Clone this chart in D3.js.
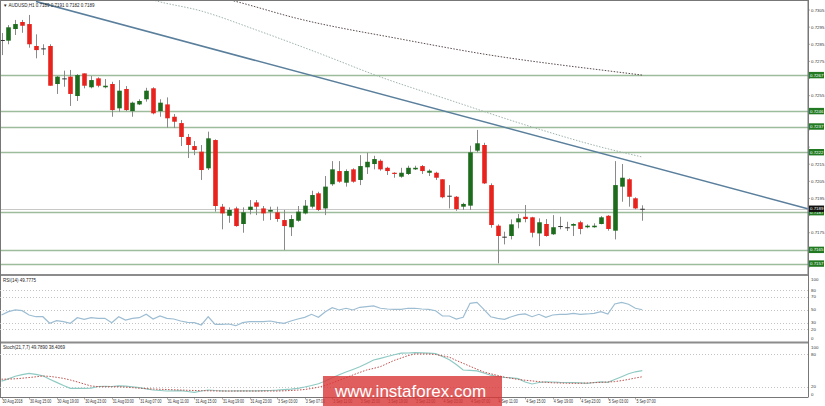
<!DOCTYPE html>
<html>
<head>
<meta charset="utf-8">
<script src="https://cdn.jsdelivr.net/npm/d3@7/dist/d3.min.js"></script>
<style>
  body { margin: 0; background: #fff; }
  svg { display: block; font-family: "Liberation Sans", Arial, sans-serif; }
</style>
</head>
<body>
<svg></svg>
<script>
// AUDUSD H1 candles, 30 Aug 11:00 .. 5 Sep 08:00
const open = [0.72875,0.72871,0.72939,0.72980,0.72968,0.72840,0.72826,0.72840,0.72618,0.72651,
  0.72661,0.72548,0.72680,0.72599,0.72651,0.72599,0.72618,0.72476,0.72589,0.72460,
  0.72499,0.72529,0.72593,0.72460,0.72499,0.72427,0.72390,0.72309,0.72256,0.72223,
  0.72126,0.72291,0.71902,0.71849,0.71892,0.71801,0.71883,0.71927,0.71892,0.71873,
  0.71869,0.71824,0.71782,0.71820,0.71863,0.71902,0.71980,0.71892,0.72033,0.72110,
  0.72042,0.72120,0.72058,0.72132,0.72151,0.72170,0.72129,0.72100,0.72077,0.72093,
  0.72120,0.72139,0.72100,0.72100,0.72062,0.71966,0.71960,0.71902,0.71908,0.72229,
  0.72262,0.72028,0.71791,0.71727,0.71731,0.71811,0.71843,0.71840,0.71746,0.71801,
  0.71741,0.71789,0.71782,0.71791,0.71811,0.71782,0.71782,0.71801,0.71849,0.71762,
  0.72019,0.72062,0.71951,0.71890];
const high = [0.72916,0.72962,0.72992,0.72992,0.73021,0.72908,0.72850,0.72850,0.72665,0.72696,
  0.72700,0.72676,0.72680,0.72665,0.72657,0.72647,0.72631,0.72641,0.72606,0.72515,
  0.72529,0.72596,0.72599,0.72529,0.72540,0.72443,0.72408,0.72326,0.72285,0.72262,
  0.72340,0.72295,0.71918,0.71898,0.71902,0.71898,0.71941,0.71941,0.71906,0.71902,
  0.71902,0.71883,0.71853,0.71906,0.71941,0.71995,0.71989,0.72081,0.72168,0.72168,
  0.72120,0.72126,0.72203,0.72217,0.72199,0.72178,0.72135,0.72103,0.72129,0.72141,
  0.72141,0.72145,0.72120,0.72106,0.72062,0.72028,0.71964,0.71925,0.72258,0.72350,
  0.72275,0.72038,0.71799,0.71756,0.71828,0.71859,0.71912,0.71843,0.71834,0.71830,
  0.71853,0.71843,0.71814,0.71805,0.71820,0.71799,0.71805,0.71847,0.71853,0.72168,
  0.72151,0.72068,0.71957,0.71910];
const low = [0.72787,0.72850,0.72904,0.72917,0.72830,0.72768,0.72787,0.72608,0.72560,0.72602,
  0.72490,0.72519,0.72593,0.72593,0.72599,0.72593,0.72427,0.72456,0.72460,0.72427,
  0.72495,0.72515,0.72441,0.72427,0.72363,0.72361,0.72256,0.72186,0.72203,0.72058,
  0.72116,0.71873,0.71770,0.71808,0.71785,0.71750,0.71857,0.71853,0.71820,0.71824,
  0.71814,0.71649,0.71731,0.71814,0.71857,0.71892,0.71877,0.71853,0.72024,0.72042,
  0.72019,0.72042,0.72028,0.72093,0.72120,0.72112,0.72087,0.72071,0.72071,0.72087,
  0.72116,0.72093,0.72081,0.72058,0.71951,0.71892,0.71878,0.71883,0.71883,0.72219,
  0.72034,0.71779,0.71571,0.71682,0.71711,0.71776,0.71811,0.71723,0.71672,0.71727,
  0.71737,0.71770,0.71760,0.71731,0.71741,0.71776,0.71779,0.71799,0.71762,0.71711,
  0.71931,0.71902,0.71887,0.71820];
const close = [0.72875,0.72949,0.72968,0.72958,0.72850,0.72816,0.72826,0.72608,0.72661,0.72651,
  0.72560,0.72670,0.72608,0.72641,0.72608,0.72608,0.72466,0.72579,0.72466,0.72509,
  0.72519,0.72579,0.72447,0.72509,0.72418,0.72398,0.72309,0.72262,0.72233,0.72116,
  0.72301,0.71906,0.71863,0.71883,0.71789,0.71869,0.71902,0.71902,0.71863,0.71883,
  0.71830,0.71789,0.71830,0.71873,0.71908,0.71970,0.71883,0.72019,0.72120,0.72048,
  0.72110,0.72048,0.72139,0.72164,0.72180,0.72120,0.72110,0.72093,0.72100,0.72129,
  0.72129,0.72110,0.72112,0.72071,0.71957,0.71966,0.71888,0.71918,0.72219,0.72272,
  0.72038,0.71795,0.71731,0.71727,0.71799,0.71834,0.71830,0.71750,0.71811,0.71731,
  0.71782,0.71789,0.71782,0.71801,0.71772,0.71791,0.71791,0.71840,0.71772,0.72028,
  0.72071,0.71960,0.71892,0.71890];

const rsi = [41.8,46.9,49.5,48.4,41.8,39.2,39.2,29.2,33.1,31.6,
  29.2,37.7,35.3,37.7,36.8,36.8,30.1,39.2,34.2,36.8,
  37.7,42.9,35.7,40.3,36.8,35.7,32.7,30.7,30.1,26.6,
  39.2,27.6,27.6,28.1,25.5,30.1,31.6,31.6,31.6,32.7,
  30.7,29.2,32.7,35.7,38.3,42.9,38.3,46.9,53.0,49.5,
  52.1,49.5,53.6,54.5,55.6,52.1,51.0,50.5,50.5,52.1,
  52.1,51.0,50.5,48.4,40.3,40.3,35.7,38.3,59.7,61.2,
  50.5,39.2,36.8,35.3,39.2,42.3,43.4,39.2,42.9,38.3,
  41.8,42.9,42.9,44.4,42.9,43.4,44.4,46.9,43.4,58.6,
  61.2,58.2,52.1,49.8];

const stochMain = [30.2,34.6,39.4,42.4,44.6,42.8,40.2,33.9,28.0,22.2,
  17.0,17.0,17.0,17.4,20.4,20.7,20.4,21.7,20.9,19.6,
  18.3,16.1,13.9,13.0,12.0,12.4,12.6,11.1,9.6,12.0,
  13.9,13.0,12.4,12.0,12.2,12.4,12.2,12.4,12.6,13.0,
  13.5,14.6,15.4,17.0,19.4,22.2,25.4,30.6,36.7,42.2,
  47.2,51.9,56.9,63.0,69.4,72.6,75.9,79.1,82.0,82.4,
  83.0,82.6,82.2,81.3,75.9,70.0,61.1,50.9,50.4,49.4,
  45.4,41.3,38.9,37.2,36.5,35.0,28.7,25.0,27.8,29.1,
  28.7,28.1,27.8,27.4,26.9,26.3,27.8,29.1,28.1,33.3,
  38.5,43.9,47.6,49.8];
const stochSignal = [33.9,34.1,34.6,35.7,37.0,38.3,39.8,39.1,37.4,35.4,
  32.4,28.9,25.0,21.3,20.2,20.0,20.0,20.0,19.3,18.3,
  17.2,16.5,15.7,15.2,14.8,14.3,13.9,13.3,13.0,12.6,
  12.4,12.2,12.0,12.0,12.0,12.0,12.0,12.0,12.0,12.0,
  12.0,12.4,13.0,13.7,14.8,16.7,19.1,22.4,26.9,31.9,
  36.7,41.7,46.5,50.9,53.9,57.2,63.0,68.7,73.1,77.6,
  80.6,80.6,80.6,79.6,77.2,74.6,68.7,63.3,57.8,52.4,
  47.2,43.9,40.9,37.6,35.6,33.3,32.0,30.7,29.4,28.1,
  27.2,26.9,26.3,26.3,26.3,26.9,27.4,28.1,28.7,29.4,
  31.3,33.5,36.1,38.4];

// horizontal levels drawn on the chart, and the axis tick labels
const levels = [0.7267, 0.7246, 0.7237, 0.7222, 0.7187, 0.7165, 0.7157];
const lastPrice = 0.7189;
const priceTicks = [0.7305, 0.7295, 0.7285, 0.7275, 0.7265, 0.7255, 0.7245, 0.7235,
  0.7225, 0.7215, 0.7205, 0.7195, 0.7185, 0.7175, 0.7165, 0.7155];
const timeLabels = ["30 Aug 2018","30 Aug 15:00","30 Aug 19:00","30 Aug 23:00","31 Aug 03:00",
  "31 Aug 07:00","31 Aug 11:00","31 Aug 15:00","31 Aug 19:00","31 Aug 23:00","3 Sep 03:00",
  "3 Sep 07:00","3 Sep 11:00","3 Sep 15:00","3 Sep 19:00","3 Sep 23:00","4 Sep 03:00",
  "4 Sep 07:00","4 Sep 11:00","4 Sep 15:00","4 Sep 19:00","4 Sep 23:00","5 Sep 03:00","5 Sep 07:00"];
const rsiLevels = [80, 70, 50, 30, 20];
const rsiTicks = [100, 80, 70, 50, 30, 20, 0];
const stochLevels = [80, 20];
const stochTicks = [100, 80, 20, 0];

// trend line anchors (bar index, price) and the two moving averages
const trendline = [[5, 0.7310], [117, 0.7189]];
const maLight = [[21, 0.73120], [22, 0.73108], [29, 0.73044], [37, 0.72933], [46, 0.72799],
  [55, 0.72659], [65, 0.72525], [77, 0.72367], [87, 0.72250], [93, 0.72192]];
const maDark = [[32, 0.73120], [34, 0.73100], [43, 0.73000], [58, 0.72880], [72, 0.72780],
  [81, 0.72730], [87, 0.72700], [93, 0.72670]];

const width = 825, height = 406;
const axisX = 808;
const mainTop = 1, mainBottom = 274;
const rsiTop = 276, rsiBottom = 341.5;
const stTop = 343.5, stBottom = 397.5;

const svg = d3.select("svg")
  .attr("width", width)
  .attr("height", height)
  .attr("viewBox", [0, 0, width, height]);

const x = d3.scaleLinear().domain([0, 93]).range([1.5, 642.3]);
const y = d3.scaleLinear().domain([0.7155, 0.7305]).range([267, 10]);
const yR = d3.scaleLinear().domain([0, 100]).range([342.4, 276.9]);
const yS = d3.scaleLinear().domain([0, 100]).range([397.5, 343.5]);

const green = "#1d6b1d", red = "#e8231d", wick = "#8a8a8a";

svg.append("defs").append("clipPath").attr("id", "clipMain")
  .append("rect").attr("x", 0).attr("y", mainTop).attr("width", axisX).attr("height", mainBottom - mainTop);

const main = svg.append("g").attr("clip-path", "url(#clipMain)");

// level lines
main.append("g").selectAll("line").data(levels).join("line")
  .attr("x1", 0).attr("x2", axisX)
  .attr("y1", d => Math.round(y(d)) + 0.5).attr("y2", d => Math.round(y(d)) + 0.5)
  .attr("stroke", "#9cbc9c").attr("stroke-width", 1.3);

// last price line
main.append("line")
  .attr("x1", 0).attr("x2", axisX)
  .attr("y1", Math.round(y(lastPrice)) + 0.5).attr("y2", Math.round(y(lastPrice)) + 0.5)
  .attr("stroke", "#c8c8c8").attr("stroke-width", 1);

// moving averages
const maLine = d3.line().x(d => x(d[0])).y(d => y(d[1])).curve(d3.curveMonotoneX);
main.append("path").attr("d", maLine(maLight))
  .attr("fill", "none").attr("stroke", "#9fb4ae").attr("stroke-width", 1)
  .attr("stroke-dasharray", "1.5,1.5");
main.append("path").attr("d", maLine(maDark))
  .attr("fill", "none").attr("stroke", "#5a4a4a").attr("stroke-width", 1)
  .attr("stroke-dasharray", "1.5,1.5");

// trend line
main.append("line")
  .attr("x1", x(trendline[0][0])).attr("y1", y(trendline[0][1]))
  .attr("x2", x(trendline[1][0])).attr("y2", y(trendline[1][1]))
  .attr("stroke", "#5a7f9c").attr("stroke-width", 1.6);

// candles
const bars = d3.range(open.length).map(i => ({ i, o: open[i], h: high[i], l: low[i], c: close[i] }));
const cg = main.append("g");
cg.selectAll("line").data(bars).join("line")
  .attr("x1", d => Math.round(x(d.i)) + 0.5).attr("x2", d => Math.round(x(d.i)) + 0.5)
  .attr("y1", d => y(d.h)).attr("y2", d => y(d.l))
  .attr("stroke", wick).attr("stroke-width", 1);
cg.selectAll("rect").data(bars).join("rect")
  .attr("x", d => Math.round(x(d.i)) + 0.5 - 2.3)
  .attr("width", 4.6)
  .attr("y", d => y(Math.max(d.o, d.c)))
  .attr("height", d => Math.max(1, Math.abs(y(d.o) - y(d.c))))
  .attr("fill", d => d.c > d.o ? green : d.c < d.o ? red : "#333");

// panel frames and separators
svg.append("rect").attr("x", 0.5).attr("y", 0.5).attr("width", axisX - 0.5).attr("height", mainBottom)
  .attr("fill", "none").attr("stroke", "#777");
svg.append("rect").attr("x", 0).attr("y", mainBottom).attr("width", axisX).attr("height", rsiTop - mainBottom)
  .attr("fill", "#8c8c8c");
svg.append("rect").attr("x", 0).attr("y", rsiBottom).attr("width", axisX).attr("height", stTop - rsiBottom)
  .attr("fill", "#8c8c8c");
svg.append("line").attr("x1", 0).attr("x2", axisX).attr("y1", stBottom).attr("y2", stBottom)
  .attr("stroke", "#777");
svg.append("line").attr("x1", 0.5).attr("x2", 0.5).attr("y1", 0).attr("y2", stBottom)
  .attr("stroke", "#777");
svg.append("line").attr("x1", axisX + 0.5).attr("x2", axisX + 0.5).attr("y1", 0).attr("y2", stBottom)
  .attr("stroke", "#777");

// RSI panel
const rsiG = svg.append("g");
rsiG.selectAll("line").data(rsiLevels).join("line")
  .attr("x1", 0).attr("x2", axisX)
  .attr("y1", d => Math.round(yR(d)) + 0.5).attr("y2", d => Math.round(yR(d)) + 0.5)
  .attr("stroke", "#c4c4c4").attr("stroke-dasharray", "1,2");
rsiG.append("path")
  .attr("d", d3.line().x((d, i) => x(i)).y(d => yR(d))(rsi))
  .attr("fill", "none").attr("stroke", "#9dbdd2").attr("stroke-width", 1.2);

// Stochastic panel
const stG = svg.append("g");
stG.selectAll("line").data(stochLevels).join("line")
  .attr("x1", 0).attr("x2", axisX)
  .attr("y1", d => Math.round(yS(d)) + 0.5).attr("y2", d => Math.round(yS(d)) + 0.5)
  .attr("stroke", "#c4c4c4").attr("stroke-dasharray", "1,2");
stG.append("path")
  .attr("d", d3.line().x((d, i) => x(i)).y(d => yS(d))(stochMain))
  .attr("fill", "none").attr("stroke", "#8fcac3").attr("stroke-width", 1.2);
stG.append("path")
  .attr("d", d3.line().x((d, i) => x(i)).y(d => yS(d))(stochSignal))
  .attr("fill", "none").attr("stroke", "#c0504d").attr("stroke-width", 1)
  .attr("stroke-dasharray", "1.5,1.5");

// right price axis; ticks hidden behind a level label are not drawn (as in the terminal)
const fs = 4.4;
const tagged = levels.concat([lastPrice]);
const visibleTicks = priceTicks.filter(t => tagged.every(p => Math.abs(y(t) - y(p)) > 6));
const pa = svg.append("g").attr("font-size", fs).attr("fill", "#333");
pa.selectAll("text").data(visibleTicks).join("text")
  .attr("x", axisX + 3).attr("y", d => y(d)).attr("dy", "0.35em")
  .text(d => d.toFixed(4));
pa.selectAll("line").data(priceTicks).join("line")
  .attr("x1", axisX).attr("x2", axisX + 2).attr("y1", d => y(d)).attr("y2", d => y(d))
  .attr("stroke", "#777").attr("stroke-width", 0.6);

// level labels on the axis
const lv = svg.append("g").attr("font-size", fs);
lv.selectAll("rect").data(levels).join("rect")
  .attr("x", axisX + 1).attr("y", d => y(d) - 3.2).attr("width", 15).attr("height", 6.4)
  .attr("fill", "#217a21");
lv.selectAll("text").data(levels).join("text")
  .attr("x", axisX + 2).attr("y", d => y(d)).attr("dy", "0.35em").attr("fill", "#fff")
  .text(d => d.toFixed(4));
lv.append("rect").attr("x", axisX + 1).attr("y", y(lastPrice) - 3.2).attr("width", 15).attr("height", 6.4)
  .attr("fill", "#111");
lv.append("text").attr("x", axisX + 2).attr("y", y(lastPrice)).attr("dy", "0.35em").attr("fill", "#fff")
  .text(lastPrice.toFixed(4));

// indicator axis labels
function indLabels(ticks, scale, top, bottom) {
  svg.append("g").attr("font-size", fs).attr("fill", "#333")
    .selectAll("text").data(ticks).join("text")
    .attr("x", axisX + 3)
    .attr("y", d => Math.min(bottom - 3, Math.max(top + 3.5, scale(d))))
    .attr("dy", "0.35em")
    .text(d => d);
}
indLabels(rsiTicks, yR, rsiTop, rsiBottom);
indLabels(stochTicks, yS, stTop, stBottom);

// time axis (narrow labels, squeezed horizontally like the terminal font)
const ta = svg.append("g").attr("font-size", 4.6).attr("fill", "#333");
ta.selectAll("text").data(timeLabels).join("text")
  .attr("transform", (d, k) => `translate(${x(k * 4) + 1},402.5) scale(0.78,1)`)
  .text(d => d);
ta.selectAll("line").data(timeLabels).join("line")
  .attr("x1", (d, k) => Math.round(x(k * 4)) + 0.5).attr("x2", (d, k) => Math.round(x(k * 4)) + 0.5)
  .attr("y1", stBottom).attr("y2", stBottom + 2).attr("stroke", "#777").attr("stroke-width", 0.6);

// titles
svg.append("text").attr("x", 3).attr("y", 6.5).attr("font-size", 4.5).attr("fill", "#222")
  .text("\u25BC AUDUSD,H1  0.7189 0.7191 0.7182 0.7189");
svg.append("text").attr("x", 3).attr("y", rsiTop + 5.5).attr("font-size", 4.5).attr("fill", "#222")
  .text("RSI(14) 49.7775");
svg.append("text").attr("x", 3).attr("y", stTop + 5.5).attr("font-size", 4.5).attr("fill", "#222")
  .text("Stoch(21,7,7) 49.7890 38.4069");

// watermark
svg.append("rect").attr("x", 323).attr("y", 376).attr("width", 179).attr("height", 30)
  .attr("fill", "#d93636").attr("opacity", 0.8);
svg.append("text").attr("x", 335).attr("y", 397).attr("font-size", 17).attr("fill", "#fff")
  .text("www.instaforex.com");
</script>
</body>
</html>
